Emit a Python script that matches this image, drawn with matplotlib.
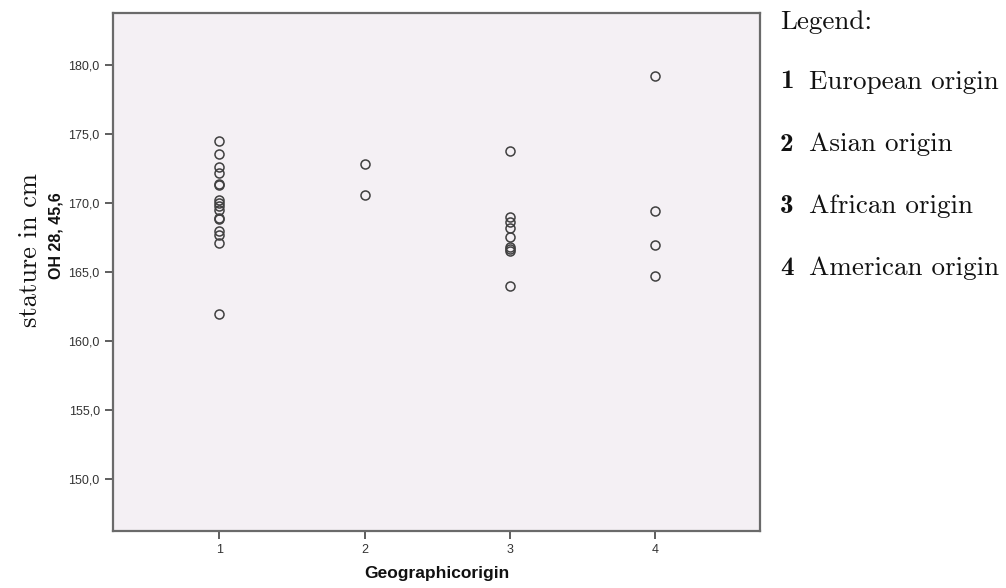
import numpy as np
import matplotlib
matplotlib.use("Agg")
import matplotlib.pyplot as plt


# stature (OH 28, 45,6) per geographic origin group
european = [174.5, 173.6, 172.6, 172.2, 171.4, 171.3, 170.25, 170.0, 169.8,
            169.5, 168.9, 168.85, 168.0, 167.7, 167.1, 161.95]
asian = [172.85, 170.6]
african = [173.8, 169.0, 168.6, 168.2, 167.55, 166.85, 166.7, 166.5, 163.95]
american = [179.2, 169.4, 166.95, 164.7]

groups = [1, 2, 3, 4]
y_ticks = [150, 155, 160, 165, 170, 175, 180]
legend_names = ["European origin", "Asian origin", "African origin", "American origin"]

W, H = 1006, 588


def px(x, y):
    # pixel coords (from top-left) -> figure fraction
    return x / W, 1 - y / H


def main():
    fig = plt.figure(figsize=(W / 100, H / 100), dpi=100)
    fig.patch.set_facecolor("white")

    left, top = px(113, 13)
    right, bottom = px(760, 531)
    ax = fig.add_axes([left, bottom, right - left, top - bottom])
    ax.set_facecolor("#F4F0F4")

    for g, values in zip(groups, [european, asian, african, american]):
        ax.plot([g] * len(values), values, linestyle="none", marker="o",
                markersize=6.5, markerfacecolor="none",
                markeredgecolor="#404040", markeredgewidth=1.1)

    ax.set_xlim(0.27, 4.72)
    ax.set_ylim(146.2, 183.8)
    ax.set_xticks(groups)
    ax.set_xticklabels([str(g) for g in groups])
    ax.set_yticks(y_ticks)
    ax.set_yticklabels([f"{t:.1f}".replace(".", ",") for t in y_ticks])

    for s in ax.spines.values():
        s.set_color("#6a6a6a")
        s.set_linewidth(1.6)
    ax.tick_params(direction="out", length=6, width=1.1, color="#333333",
                   labelsize=9, labelcolor="#333333")
    for lab in ax.get_xticklabels() + ax.get_yticklabels():
        lab.set_fontfamily("Liberation Sans")

    ax.set_xlabel("Geographicorigin", fontsize=12.5, fontweight="bold",
                  fontfamily="Liberation Sans", color="#111111", labelpad=7)

    # y axis labels placed by hand, they are not centred on the axis
    fig.text(*px(56, 236), "OH 28, 45,6", rotation=90, ha="center", va="center",
             fontsize=11.5, fontweight="bold", fontfamily="Liberation Sans",
             color="#111111")
    fig.text(*px(30, 250), "stature in cm", rotation=90, ha="center", va="center",
             fontsize=19, fontfamily="cmr10", color="#111111")

    # legend on the right
    fs = 19.5
    fig.text(*px(780, 22), "Legend:", ha="left", va="center", fontsize=fs,
             fontfamily="cmr10", color="#111111")
    for i, (g, name) in enumerate(zip(groups, legend_names)):
        y = 82 + i * 62
        fig.text(*px(780, y), str(g), ha="left", va="center", fontsize=fs,
                 fontfamily="cmb10", color="#111111")
        fig.text(*px(809, y), name, ha="left", va="center", fontsize=fs,
                 fontfamily="cmr10", color="#111111")

    fig.savefig("out.png", dpi=100)


if __name__ == "__main__":
    main()
